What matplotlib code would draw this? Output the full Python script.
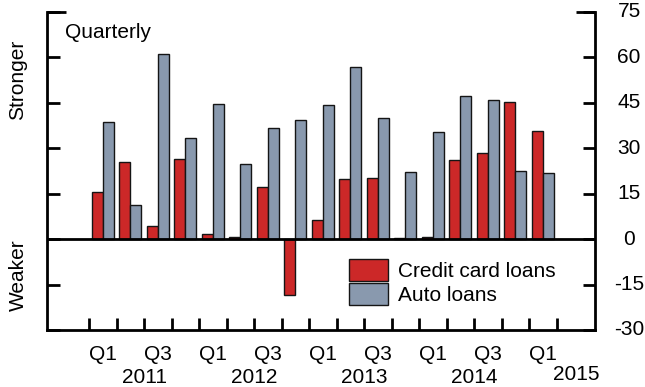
import matplotlib
matplotlib.use("Agg")
import matplotlib.pyplot as plt
import numpy as np
from matplotlib.patches import Patch

plt.rcParams['font.family'] = ['Liberation Sans', 'DejaVu Sans']
plt.rcParams['axes.unicode_minus'] = False

quarters = ["2011Q1", "2011Q2", "2011Q3", "2011Q4",
            "2012Q1", "2012Q2", "2012Q3", "2012Q4",
            "2013Q1", "2013Q2", "2013Q3", "2013Q4",
            "2014Q1", "2014Q2", "2014Q3", "2014Q4",
            "2015Q1"]
credit_card = [15.7, 25.4, 4.4, 26.5, 1.6, 0.8, 17.3, -18.4,
               6.4, 19.8, 20.1, 0.3, 0.6, 26.0, 28.4, 45.2, 35.7]
auto_loans = [38.8, 11.3, 61.0, 33.3, 44.5, 24.8, 36.8, 39.3,
              44.3, 56.9, 40.1, 22.3, 35.5, 47.4, 45.9, 22.5, 22.0]
q_labels = ["Q1", "", "Q3", "", "Q1", "", "Q3", "", "Q1", "", "Q3", "",
            "Q1", "", "Q3", "", "Q1"]
years = ["2011", "2012", "2013", "2014", "2015"]
y_ticks = [-30, -15, 0, 15, 30, 45, 60, 75]

RED = "#CC2828"
GRAY = "#8999AE"
FS = 15

fig = plt.figure(figsize=(6.45, 3.87), dpi=100)
ax = fig.add_axes([0.0736, 0.1473, 0.8489, 0.8217])

x = np.arange(len(quarters))
w = 0.4
ax.bar(x - w / 2, credit_card, width=w, color=RED, edgecolor="#151515", linewidth=1.0, zorder=2)
ax.bar(x + w / 2, auto_loans, width=w, color=GRAY, edgecolor="#151515", linewidth=1.0, zorder=2)

ax.set_xlim(-2.02, 17.9)
ax.set_ylim(-30, 75)
ax.axhline(0, color="black", linewidth=2, zorder=3)

for s in ["left", "right", "bottom"]:
    ax.spines[s].set_linewidth(2)
ax.spines["top"].set_visible(False)

ax.set_yticks(y_ticks)
ax.tick_params(axis="y", direction="in", length=9, width=2, left=True, right=True,
               labelleft=False, labelright=False)
# right-hand value labels, centred about 34 px right of the right spine
ytrans = ax.get_yaxis_transform()
for v in y_ticks:
    ax.text((629 - 47.5) / 547.5, v, str(v), transform=ytrans, ha="center", va="center",
            fontsize=FS, clip_on=False)

bounds = np.arange(len(quarters) + 1) - 0.5
ax.set_xticks(bounds)
ax.set_xticklabels([])
ax.tick_params(axis="x", direction="in", length=9, width=2, bottom=True)

trans = ax.get_xaxis_transform()
for i, lab in enumerate(q_labels):
    if lab:
        ax.text(x[i], -0.078, lab, transform=trans, ha="center", va="center", fontsize=FS)
for k, yr in enumerate(years):
    if yr == "2015":
        ax.text(17.2, -0.139, yr, transform=trans, ha="center", va="center", fontsize=FS)
    else:
        ax.text(4 * k + 1.5, -0.148, yr, transform=trans, ha="center", va="center", fontsize=FS)

ax.plot([-2.02, -1.35], [75, 75], color="black", lw=2, clip_on=False, solid_capstyle="butt")
ax.plot([17.2, 17.9], [75, 75], color="black", lw=2, clip_on=False, solid_capstyle="butt")

ax.text(-1.4, 0.935, "Quarterly", transform=trans, ha="left", va="center", fontsize=FS)
fig.text(18 / 645, 1 - 80 / 387, "Stronger", rotation=90, ha="center", va="center", fontsize=FS)
fig.text(18 / 645, 1 - 275 / 387, "Weaker", rotation=90, ha="center", va="center", fontsize=FS)

handles = [Patch(facecolor=RED, edgecolor="#151515", linewidth=1.0, label="Credit card loans"),
           Patch(facecolor=GRAY, edgecolor="#151515", linewidth=1.0, label="Auto loans")]
leg = ax.legend(handles=handles, loc="upper left",
                bbox_to_anchor=((349 - 47.5) / 547.5, 1 - (259 - 12) / 318),
                frameon=False, fontsize=FS, handlelength=1.87, handleheight=1.25,
                handletextpad=0.5, labelspacing=0.1, borderpad=0.0, borderaxespad=0)

fig.savefig("out.png", dpi=100)
